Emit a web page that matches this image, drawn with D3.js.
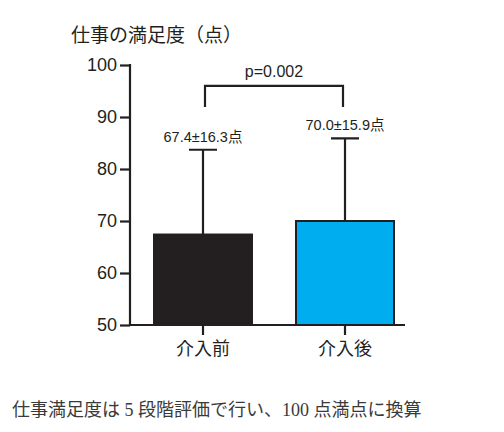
<!DOCTYPE html>
<html><head><meta charset="utf-8">
<script src="https://cdn.jsdelivr.net/npm/d3@7"></script>
<style>body{margin:0;background:#fff}</style>
</head><body>
<script>
const categories = ["介入前", "介入後"];
const means = [67.4, 70.0];
const sds = [16.3, 15.9];
const labels = ["67.4±16.3点", "70.0±15.9点"];
const yTicks = [50, 60, 70, 80, 90, 100];
const colors = ["#231f20", "#00aeef"];
const pText = "p=0.002";
const dark = "#231f20";

const svg = d3.select("body").append("svg").attr("width", 504).attr("height", 432);
const y = d3.scaleLinear().domain([50, 100]).range([325, 65]);
const x = d3.scaleBand().domain(categories).range([131, 417]).paddingInner(0.31).paddingOuter(0.162);

const yAxis = svg.append("g").attr("transform", "translate(130,0)")
  .call(d3.axisLeft(y).tickValues(yTicks).tickSize(10).tickPadding(3));
yAxis.select(".domain").attr("stroke", dark).attr("stroke-width", 2.2).attr("d", `M0,${y(100)-1}V${y(50)}`);
yAxis.selectAll(".tick line").attr("stroke", dark).attr("stroke-width", 2.2);
yAxis.selectAll(".tick text").attr("font-family", "Arial, Liberation Sans, sans-serif").attr("font-size", 18).attr("fill", dark);

const xAxis = svg.append("g").attr("transform", "translate(0,325)")
  .call(d3.axisBottom(x).tickSize(10).tickPadding(7));
xAxis.select(".domain").attr("stroke", dark).attr("stroke-width", 2.2).attr("d", "M129,0H405");
xAxis.selectAll(".tick line").attr("stroke", dark).attr("stroke-width", 2.2);
xAxis.selectAll(".tick text").attr("font-family", "Noto Sans CJK JP").attr("font-size", 18).attr("fill", dark);

const data = categories.map((c, i) => ({c, m: means[i], s: sds[i], l: labels[i], col: colors[i]}));

// error bars
svg.selectAll(".err").data(data).enter().append("path")
  .attr("d", d => {
    const cx = x(d.c) + x.bandwidth() / 2;
    return `M${cx},${y(d.m)}V${y(d.m + d.s)}M${cx-14},${y(d.m + d.s)}H${cx+14}`;
  })
  .attr("stroke", dark).attr("stroke-width", 2.2).attr("fill", "none");

svg.selectAll(".bar").data(data).enter().append("rect")
  .attr("x", d => x(d.c)).attr("width", x.bandwidth())
  .attr("y", d => y(d.m)).attr("height", d => y(50) - y(d.m))
  .attr("fill", d => d.col).attr("stroke", dark).attr("stroke-width", 2);

svg.selectAll(".lbl").data(data).enter().append("text")
  .attr("x", d => x(d.c) + x.bandwidth() / 2)
  .attr("y", d => y(d.m + d.s) - 8)
  .attr("text-anchor", "middle")
  .attr("font-family", "Arial, Liberation Sans, Noto Sans CJK JP, sans-serif").attr("font-size", 14.5).attr("fill", dark)
  .text(d => d.l);

// significance bracket
const x1 = x(categories[0]) + x.bandwidth() / 2 + 2, x2 = x(categories[1]) + x.bandwidth() / 2 - 2;
svg.append("path")
  .attr("d", `M${x1},${y(91.9)}V${y(96)}H${x2}V${y(91.9)}`)
  .attr("stroke", dark).attr("stroke-width", 2.2).attr("fill", "none");
svg.append("text").attr("x", (x1 + x2) / 2).attr("y", y(96) - 9).attr("text-anchor", "middle")
  .attr("font-family", "Arial, Liberation Sans, sans-serif").attr("font-size", 16).attr("fill", dark).text(pText);

svg.append("text").attr("x", 71).attr("y", 42)
  .attr("font-family", "Noto Sans CJK JP").attr("font-size", 19).attr("fill", dark)
  .text("仕事の満足度（点）");

svg.append("text").attr("x", 12).attr("y", 416)
  .attr("font-family", "Liberation Serif, Noto Sans CJK JP").attr("font-size", 18).attr("fill", "#3a3a3a")
  .text("仕事満足度は 5 段階評価で行い、100 点満点に換算");
</script>
</body></html>
